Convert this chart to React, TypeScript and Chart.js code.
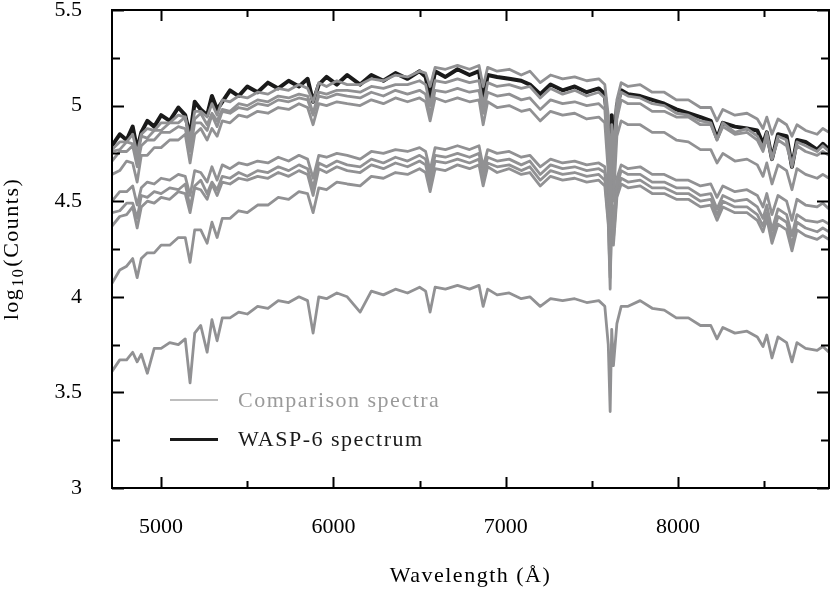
import React, { useEffect, useRef } from "react";
import { Chart, registerables } from "chart.js";

Chart.register(...registerables);

// Wavelength grid (Å)
const WAVELENGTH = [
  4715, 4760, 4800, 4835, 4861, 4885, 4920, 4960, 5000, 5050,
  5100, 5140, 5168, 5195, 5230, 5267, 5295, 5325, 5355, 5400,
  5450, 5500, 5560, 5620, 5680, 5740, 5800, 5850, 5882, 5915,
  5960, 6020, 6080, 6155, 6220, 6290, 6360, 6430, 6500, 6535,
  6561, 6590, 6650, 6720, 6790, 6845, 6869, 6895, 6950, 7020,
  7090, 7140, 7200, 7260, 7330, 7400, 7470, 7540, 7575, 7595,
  7606, 7615, 7625, 7645, 7670, 7710, 7780, 7850, 7920, 7990,
  8060, 8130, 8190, 8226, 8260, 8330, 8400, 8460, 8493, 8515,
  8545, 8580, 8630, 8661, 8690, 8740, 8807, 8840, 8876,
];

// log10(Counts) — WASP-6 spectrum
const WASP6 = [
  4.79, 4.85, 4.82, 4.89, 4.77, 4.86, 4.92, 4.89, 4.95, 4.92,
  4.99, 4.95, 4.84, 5.02, 4.98, 4.95, 5.05, 4.98, 5.02, 5.08,
  5.05, 5.10, 5.07, 5.12, 5.09, 5.13, 5.10, 5.14, 5.02, 5.11,
  5.15, 5.11, 5.16, 5.11, 5.16, 5.13, 5.17, 5.14, 5.18, 5.15,
  5.04, 5.18, 5.15, 5.19, 5.16, 5.18, 5.02, 5.16, 5.15, 5.14,
  5.13, 5.11, 5.06, 5.11, 5.08, 5.10, 5.07, 5.09, 5.06, 4.85,
  4.51, 4.95, 4.72, 5.00, 5.08, 5.06, 5.05, 5.03, 5.01, 4.98,
  4.96, 4.94, 4.92, 4.83, 4.91, 4.89, 4.88, 4.87, 4.80, 4.86,
  4.72, 4.85, 4.84, 4.68, 4.82, 4.81, 4.77, 4.80, 4.77,
];

// Comparison spectra
const COMP_1 = [
  4.77, 4.81, 4.81, 4.85, 4.75, 4.85, 4.88, 4.87, 4.91, 4.91,
  4.95, 4.94, 4.82, 4.97, 4.97, 4.94, 5.01, 4.95, 5.03, 5.02,
  5.05, 5.04, 5.07, 5.06, 5.09, 5.08, 5.11, 5.09, 5.02, 5.12,
  5.10, 5.13, 5.11, 5.11, 5.14, 5.13, 5.16, 5.15, 5.18, 5.17,
  5.10, 5.20, 5.19, 5.21, 5.19, 5.21, 5.10, 5.20, 5.18, 5.19,
  5.16, 5.18, 5.12, 5.16, 5.14, 5.15, 5.13, 5.14, 5.11, 4.95,
  4.45, 4.90, 4.75, 5.03, 5.12, 5.10, 5.11, 5.07, 5.07, 5.03,
  5.03, 4.99, 4.99, 4.92, 4.98, 4.95, 4.96, 4.93, 4.88, 4.94,
  4.85, 4.93, 4.90, 4.84, 4.90, 4.87, 4.85, 4.88, 4.86,
];
const COMP_2 = [
  4.76, 4.77, 4.81, 4.80, 4.72, 4.84, 4.83, 4.87, 4.87, 4.91,
  4.91, 4.94, 4.80, 4.93, 4.96, 4.90, 4.96, 4.92, 4.98, 4.97,
  5.01, 5.00, 5.03, 5.02, 5.05, 5.04, 5.06, 5.05, 4.96, 5.07,
  5.06, 5.08, 5.08, 5.07, 5.10, 5.09, 5.11, 5.11, 5.13, 5.11,
  5.00, 5.13, 5.12, 5.14, 5.12, 5.13, 5.00, 5.12, 5.10, 5.11,
  5.09, 5.10, 5.04, 5.09, 5.06, 5.08, 5.05, 5.07, 5.04, 4.80,
  4.35, 4.85, 4.62, 4.98, 5.07, 5.05, 5.04, 5.01, 5.00, 4.96,
  4.95, 4.92, 4.91, 4.82, 4.91, 4.86, 4.88, 4.84, 4.78, 4.86,
  4.72, 4.84, 4.82, 4.68, 4.81, 4.79, 4.76, 4.79, 4.76,
];
const COMP_3 = [
  4.71, 4.76, 4.76, 4.79, 4.68, 4.79, 4.82, 4.82, 4.86, 4.86,
  4.89, 4.88, 4.76, 4.91, 4.91, 4.87, 4.95, 4.89, 4.97, 4.96,
  4.99, 4.98, 5.01, 5.00, 5.03, 5.02, 5.04, 5.03, 4.95, 5.05,
  5.04, 5.06, 5.05, 5.04, 5.07, 5.05, 5.08, 5.06, 5.08, 5.06,
  4.95, 5.08, 5.07, 5.09, 5.07, 5.08, 4.96, 5.07, 5.05, 5.06,
  5.03, 5.04, 4.98, 5.03, 5.01, 5.02, 5.00, 5.01, 4.98, 4.70,
  4.30, 4.75, 4.55, 4.93, 5.03, 5.01, 5.01, 4.97, 4.97, 4.94,
  4.94, 4.90, 4.90, 4.82, 4.89, 4.85, 4.86, 4.82, 4.76, 4.83,
  4.72, 4.82, 4.79, 4.69, 4.79, 4.76, 4.74, 4.76, 4.74,
];
const COMP_4 = [
  4.64, 4.66, 4.71, 4.70, 4.60, 4.74, 4.74, 4.78, 4.78, 4.82,
  4.82, 4.85, 4.70, 4.85, 4.88, 4.82, 4.88, 4.84, 4.92, 4.91,
  4.95, 4.94, 4.97, 4.96, 4.99, 4.98, 5.01, 4.99, 4.90, 5.01,
  5.00, 5.02, 5.01, 5.00, 5.03, 5.01, 5.04, 5.02, 5.04, 5.02,
  4.92, 5.04, 5.02, 5.04, 5.02, 5.03, 4.90, 5.02, 4.99, 5.00,
  4.97, 4.98, 4.92, 4.97, 4.95, 4.96, 4.93, 4.94, 4.91, 4.65,
  4.28, 4.70, 4.50, 4.84, 4.92, 4.90, 4.90, 4.86, 4.86, 4.82,
  4.81, 4.77, 4.77, 4.70, 4.75, 4.71, 4.72, 4.69, 4.63, 4.70,
  4.59, 4.69, 4.66, 4.56, 4.67, 4.64, 4.62, 4.64, 4.62,
];
const COMP_5 = [
  4.50, 4.55, 4.55, 4.58, 4.48, 4.57, 4.60, 4.59, 4.62, 4.61,
  4.64, 4.63, 4.53, 4.66, 4.65, 4.60, 4.68, 4.61, 4.69, 4.67,
  4.70, 4.69, 4.71, 4.70, 4.73, 4.71, 4.74, 4.72, 4.62, 4.74,
  4.73, 4.75, 4.74, 4.72, 4.76, 4.75, 4.77, 4.76, 4.78, 4.76,
  4.66, 4.78, 4.77, 4.79, 4.77, 4.79, 4.68, 4.77, 4.75, 4.76,
  4.73, 4.74, 4.68, 4.72, 4.70, 4.71, 4.69, 4.70, 4.68, 4.50,
  4.30, 4.52, 4.36, 4.62, 4.69, 4.67, 4.68, 4.64, 4.64, 4.61,
  4.61, 4.58, 4.59, 4.52, 4.58, 4.55, 4.56, 4.53, 4.47, 4.54,
  4.43, 4.53, 4.50, 4.40, 4.51, 4.48, 4.47, 4.49, 4.46,
];
const COMP_6 = [
  4.44, 4.45, 4.49, 4.49, 4.41, 4.53, 4.52, 4.55, 4.54, 4.57,
  4.56, 4.59, 4.47, 4.58, 4.61, 4.54, 4.60, 4.56, 4.63, 4.62,
  4.65, 4.63, 4.66, 4.65, 4.68, 4.66, 4.69, 4.67, 4.57, 4.70,
  4.68, 4.71, 4.69, 4.68, 4.72, 4.70, 4.73, 4.71, 4.74, 4.72,
  4.62, 4.74, 4.73, 4.75, 4.73, 4.75, 4.64, 4.73, 4.71, 4.72,
  4.69, 4.71, 4.64, 4.69, 4.67, 4.68, 4.66, 4.67, 4.65, 4.45,
  4.22, 4.48, 4.33, 4.58, 4.66, 4.64, 4.64, 4.60, 4.60, 4.57,
  4.57, 4.53, 4.54, 4.46, 4.53, 4.50, 4.51, 4.47, 4.41, 4.48,
  4.35, 4.46, 4.43, 4.32, 4.43, 4.40, 4.39, 4.40, 4.38,
];
const COMP_7 = [
  4.37, 4.42, 4.43, 4.47, 4.36, 4.47, 4.50, 4.49, 4.52, 4.51,
  4.55, 4.54, 4.44, 4.57, 4.56, 4.51, 4.59, 4.53, 4.60, 4.59,
  4.62, 4.61, 4.63, 4.62, 4.65, 4.63, 4.66, 4.64, 4.53, 4.67,
  4.65, 4.68, 4.66, 4.65, 4.69, 4.67, 4.70, 4.68, 4.71, 4.69,
  4.59, 4.71, 4.70, 4.72, 4.70, 4.72, 4.61, 4.70, 4.68, 4.69,
  4.66, 4.68, 4.61, 4.66, 4.64, 4.65, 4.63, 4.64, 4.61, 4.40,
  4.04, 4.45, 4.30, 4.55, 4.62, 4.60, 4.61, 4.57, 4.57, 4.54,
  4.54, 4.50, 4.51, 4.43, 4.50, 4.47, 4.47, 4.43, 4.37, 4.44,
  4.31, 4.42, 4.39, 4.27, 4.39, 4.36, 4.34, 4.36, 4.34,
];
const COMP_8 = [
  4.07, 4.14, 4.16, 4.20, 4.10, 4.20, 4.23, 4.23, 4.27, 4.27,
  4.31, 4.31, 4.18, 4.35, 4.35, 4.28, 4.39, 4.31, 4.41, 4.41,
  4.45, 4.44, 4.48, 4.48, 4.52, 4.51, 4.55, 4.54, 4.44, 4.57,
  4.56, 4.60, 4.59, 4.58, 4.63, 4.62, 4.65, 4.64, 4.67, 4.65,
  4.55, 4.67, 4.66, 4.69, 4.67, 4.69, 4.58, 4.68, 4.65, 4.67,
  4.64, 4.65, 4.58, 4.63, 4.61, 4.62, 4.60, 4.61, 4.58, 4.38,
  4.10, 4.40, 4.27, 4.52, 4.59, 4.57, 4.58, 4.54, 4.54, 4.51,
  4.51, 4.47, 4.48, 4.40, 4.47, 4.44, 4.44, 4.40, 4.34, 4.41,
  4.28, 4.38, 4.35, 4.24, 4.35, 4.32, 4.30, 4.32, 4.30,
];
const COMP_9 = [
  3.61, 3.67, 3.67, 3.71, 3.66, 3.70, 3.60, 3.73, 3.73, 3.76,
  3.75, 3.78, 3.55, 3.81, 3.85, 3.71, 3.88, 3.77, 3.89, 3.89,
  3.92, 3.91, 3.95, 3.94, 3.98, 3.97, 4.00, 3.98, 3.81, 4.00,
  3.99, 4.02, 4.00, 3.92, 4.03, 4.01, 4.04, 4.02, 4.05, 4.03,
  3.92, 4.05, 4.04, 4.06, 4.04, 4.06, 3.95, 4.04, 4.01, 4.02,
  3.99, 4.00, 3.95, 3.99, 3.98, 3.99, 3.97, 3.98, 3.95, 3.75,
  3.40, 3.83, 3.64, 3.86, 3.95, 3.95, 3.98, 3.94, 3.93, 3.89,
  3.89, 3.85, 3.85, 3.78, 3.84, 3.81, 3.82, 3.79, 3.74, 3.80,
  3.68, 3.79, 3.76, 3.66, 3.76, 3.73, 3.72, 3.74, 3.71,
];
const COMPARISON = [COMP_1, COMP_2, COMP_3, COMP_4, COMP_5, COMP_6, COMP_7, COMP_8, COMP_9];

// Axes
const X_MIN = 4715;
const X_MAX = 8876;
const Y_MIN = 3;
const Y_MAX = 5.5;
const X_MAJOR = [5000, 6000, 7000, 8000];
const X_MINOR = [5500, 6500, 7500, 8500];
const Y_MAJOR = [3, 3.5, 4, 4.5, 5, 5.5];
const Y_MINOR = [3.25, 3.75, 4.25, 4.75, 5.25];

const X_TITLE = "Wavelength (Å)";
const LEGEND_COMPARISON = "Comparison spectra";
const LEGEND_TARGET = "WASP-6 spectrum";

const FONT = "'Liberation Serif', 'Times New Roman', serif";
const GRAY = "#919193";
const BLACK = "#1a1a1a";

// plot box inside the 832x589 canvas
const AREA = { left: 112, top: 10, right: 829, bottom: 488 };

const toPoints = (ys: number[]) => WAVELENGTH.map((x, i) => ({ x, y: ys[i] }));

const decorPlugin = {
  id: "decor",
  afterDraw(chart: any) {
    const { ctx, chartArea: a, scales } = chart;
    const x = scales.x;
    const y = scales.y;
    ctx.save();
    ctx.strokeStyle = "#000";
    ctx.lineWidth = 2;
    ctx.strokeRect(a.left, a.top, a.right - a.left, a.bottom - a.top);
    ctx.beginPath();
    const xt = (vals: number[], len: number) => {
      vals.forEach((v) => {
        const p = Math.round(x.getPixelForValue(v)) + 0.5;
        ctx.moveTo(p, a.bottom);
        ctx.lineTo(p, a.bottom - len);
        ctx.moveTo(p, a.top);
        ctx.lineTo(p, a.top + len);
      });
    };
    const yt = (vals: number[], len: number) => {
      vals.forEach((v) => {
        const p = Math.round(y.getPixelForValue(v)) + 0.5;
        ctx.moveTo(a.left, p);
        ctx.lineTo(a.left + len, p);
        ctx.moveTo(a.right, p);
        ctx.lineTo(a.right - len, p);
      });
    };
    xt(X_MAJOR, 11);
    xt(X_MINOR, 7);
    yt(Y_MAJOR, 12);
    yt(Y_MINOR, 8);
    ctx.stroke();

    (ctx as any).letterSpacing = "1.5px";
    ctx.fillStyle = "#000";
    ctx.font = `22px ${FONT}`;
    ctx.textAlign = "center";
    ctx.textBaseline = "alphabetic";
    ctx.fillText(X_TITLE, (a.left + a.right) / 2, 582);

    ctx.save();
    ctx.translate(18, (a.top + a.bottom) / 2);
    ctx.rotate(-Math.PI / 2);
    ctx.textAlign = "left";
    ctx.font = `22px ${FONT}`;
    const w1 = ctx.measureText("log").width;
    const w3 = ctx.measureText("(Counts)").width;
    ctx.font = `16px ${FONT}`;
    const w2 = ctx.measureText("10").width;
    const start = -(w1 + w2 + w3 + 2) / 2;
    ctx.font = `22px ${FONT}`;
    ctx.fillText("log", start, 0);
    ctx.font = `16px ${FONT}`;
    ctx.fillText("10", start + w1 + 1, 5);
    ctx.font = `22px ${FONT}`;
    ctx.fillText("(Counts)", start + w1 + w2 + 2, 0);
    ctx.restore();

    ctx.lineCap = "butt";
    ctx.beginPath();
    ctx.strokeStyle = "#a9a9a9";
    ctx.lineWidth = 1.6;
    ctx.moveTo(170, 400);
    ctx.lineTo(218, 400);
    ctx.stroke();
    ctx.beginPath();
    ctx.strokeStyle = BLACK;
    ctx.lineWidth = 3;
    ctx.moveTo(170, 439.5);
    ctx.lineTo(218, 439.5);
    ctx.stroke();
    ctx.textAlign = "left";
    ctx.textBaseline = "middle";
    ctx.font = `22px ${FONT}`;
    ctx.fillStyle = "#9a9a9a";
    ctx.fillText(LEGEND_COMPARISON, 238, 401);
    ctx.fillStyle = BLACK;
    ctx.fillText(LEGEND_TARGET, 238, 440);
    (ctx as any).letterSpacing = "0px";
    ctx.restore();
  },
};

export default function App() {
  const ref = useRef<HTMLCanvasElement | null>(null);

  useEffect(() => {
    document.body.style.margin = "0";
    const canvas = ref.current;
    if (!canvas) return;
    const datasets: any[] = COMPARISON.map((s, i) => ({
      label: `comparison-${i + 1}`,
      data: toPoints(s),
      borderColor: GRAY,
      borderWidth: 2.8,
      pointRadius: 0,
      tension: 0,
      borderJoinStyle: "round",
      fill: false,
    }));
    datasets.push({
      label: LEGEND_TARGET,
      data: toPoints(WASP6),
      borderColor: BLACK,
      borderWidth: 4,
      pointRadius: 0,
      tension: 0,
      borderJoinStyle: "round",
      fill: false,
    });

    const chart = new Chart(canvas, {
      type: "line",
      data: { datasets },
      options: {
        responsive: false,
        animation: false,
        devicePixelRatio: 1,
        layout: { autoPadding: false, padding: { top: AREA.top, right: 832 - AREA.right, left: 0, bottom: 0 } },
        plugins: { legend: { display: false }, tooltip: { enabled: false } },
        scales: {
          x: {
            type: "linear",
            min: X_MIN,
            max: X_MAX,
            grid: { display: false, drawTicks: false },
            border: { display: false },
            afterBuildTicks: (s: any) => {
              s.ticks = X_MAJOR.map((v) => ({ value: v }));
            },
            afterFit: (s: any) => {
              s.height = 589 - AREA.bottom;
              s.paddingLeft = 0;
              s.paddingRight = 0;
              s.paddingTop = 0;
              s.paddingBottom = 0;
            },
            ticks: {
              padding: 26,
              maxRotation: 0,
              color: "#000",
              font: { family: FONT, size: 22 },
              callback: (v: any) => String(v),
            },
          },
          y: {
            type: "linear",
            min: Y_MIN,
            max: Y_MAX,
            grid: { display: false, drawTicks: false },
            border: { display: false },
            afterBuildTicks: (s: any) => {
              s.ticks = Y_MAJOR.map((v) => ({ value: v }));
            },
            afterFit: (s: any) => {
              s.width = AREA.left;
              s.paddingTop = 0;
              s.paddingBottom = 0;
              s.paddingLeft = 0;
              s.paddingRight = 0;
            },
            ticks: {
              padding: 30,
              color: "#000",
              font: { family: FONT, size: 22 },
              callback: (v: any) => String(v),
            },
          },
        },
      },
      plugins: [decorPlugin],
    });
    return () => chart.destroy();
  }, []);

  return (
    <div style={{ width: 832, height: 589 }}>
      <canvas ref={ref} width={832} height={589} style={{ display: "block", width: 832, height: 589 }} />
    </div>
  );
}
